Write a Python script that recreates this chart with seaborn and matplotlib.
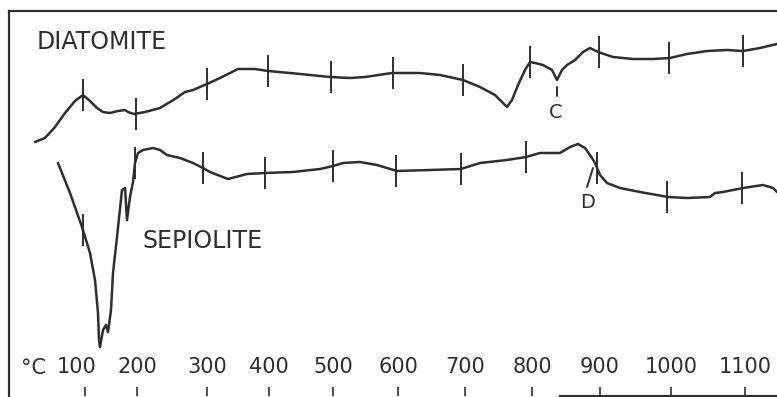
import numpy as np
import matplotlib
matplotlib.use("Agg")
from matplotlib import pyplot as plt
from matplotlib import transforms
import seaborn as sns

# chart distance along the recorder trace (arbitrary units) and pen deflection
diat_x = [26, 36, 46, 56, 66, 74, 81, 88, 94, 101, 109, 116, 119, 125, 136, 151, 166, 176, 184,
          191, 198, 211, 229, 246, 259, 281, 301, 321, 341, 356, 383, 411, 431, 454, 471, 486,
          498, 503, 509, 516, 521, 526, 534, 543, 548, 553, 558, 566, 574, 581, 589, 604, 624,
          644, 661, 678, 698, 718, 734, 751, 768]
diat_y = [254, 258, 269, 283, 295, 301, 295, 288, 284, 283, 285, 286, 284, 282, 284, 288, 297, 304, 306,
          309, 312, 318, 327, 327, 325, 323, 321, 319, 318, 319, 323, 323, 321, 316, 309, 301,
          289, 296, 311, 326, 334, 333, 331, 326, 316, 326, 331, 336, 344, 348, 344, 339, 337,
          337, 338, 342, 345, 346, 345, 348, 352]

sep_x = [49, 61, 73, 81, 86, 89, 90, 91, 94, 97, 99, 102, 104, 108, 113, 116, 118, 121, 124, 126,
         129, 134, 144, 151, 158, 171, 184, 194, 201, 219, 238, 256, 284, 311, 324, 334, 351,
         368, 388, 421, 452, 471, 498, 517, 531, 551, 561, 569, 576, 583, 586, 591, 598, 611,
         631, 659, 678, 701, 706, 714, 734, 754, 764, 768]
sep_y = [233, 203, 169, 143, 116, 83, 56, 49, 66, 71, 64, 86, 123, 159, 206, 208, 176, 199, 214, 233,
         243, 246, 248, 246, 241, 238, 233, 228, 224, 217, 222, 223, 224, 227, 230, 233, 234,
         231, 225, 226, 227, 233, 236, 239, 243, 243, 249, 252, 248, 238, 233, 221, 213, 208,
         204, 199, 198, 199, 203, 204, 208, 211, 208, 204]

# temperature marks
temps = [100, 200, 300, 400, 500, 600, 700, 800, 900, 1000, 1100]
axis_marks = [76, 128, 198, 260, 324, 389, 456, 523, 591, 662, 736]
diat_marks = [74, 127, 198, 259, 322, 384, 454, 521, 590, 660, 734]
sep_marks = [74, 126, 194, 256, 324, 387, 452, 517, 588, 658, 733]

ink = "#2e2e2e"
sns.set_style("white")
plt.rcParams["font.family"] = ["DejaVu Sans"]

fig = plt.figure(figsize=(7.77, 3.97), dpi=100)
ax = fig.add_axes([9 / 777, 1 / 397, 768 / 777, 385 / 397])

line_kw = dict(sort=False, estimator=None, color=ink, lw=1.8, solid_joinstyle="round",
               solid_capstyle="round", ax=ax)
sns.lineplot(x=diat_x, y=diat_y, **line_kw)
sns.lineplot(x=sep_x, y=sep_y, **line_kw)

ax.plot(diat_marks, np.interp(diat_marks, diat_x, diat_y), ls="none", marker="|",
        ms=23, mew=1.4, color=ink)
ax.plot(sep_marks, np.interp(sep_marks, sep_x, sep_y), ls="none", marker="|",
        ms=23, mew=1.4, color=ink)

ax.set_xlim(0, 768)
ax.set_ylim(0, 385)
ax.set_xticks(axis_marks)
ax.set_xticklabels([str(t) for t in temps])
ax.set_yticks([])
ax.tick_params(axis="x", direction="in", length=6.5, width=1.2, color=ink,
               labelsize=15, labelcolor=ink, pad=-28, bottom=True)
# the hand-lettered "100" sits a little left of its mark
first = ax.get_xticklabels()[0]
first.set_transform(first.get_transform()
                    + transforms.ScaledTranslation(-8 / 100, 0, fig.dpi_scale_trans))

for s in ["left", "top", "bottom"]:
    ax.spines[s].set_color(ink)
    ax.spines[s].set_linewidth(1.6)
ax.spines["right"].set_visible(False)
ax.spines["bottom"].set_bounds(551, 768)

ax.text(12, 28, "°C", fontsize=15, color=ink, ha="left", va="center")
ax.text(28, 354, "DIATOMITE", fontsize=17, color=ink, ha="left", va="center")
ax.text(133, 155, "SEPIOLITE", fontsize=17, color=ink, ha="left", va="center")

ax.plot([548, 548], [300, 309], color=ink, lw=1.4)
ax.text(547, 284, "C", fontsize=14, color=ink, ha="center", va="center")
ax.plot([578, 584], [209, 228], color=ink, lw=1.4)
ax.text(579, 194, "D", fontsize=14, color=ink, ha="center", va="center")

ax.set_xlabel("")
ax.set_ylabel("")
plt.savefig("out.png", dpi=100)
